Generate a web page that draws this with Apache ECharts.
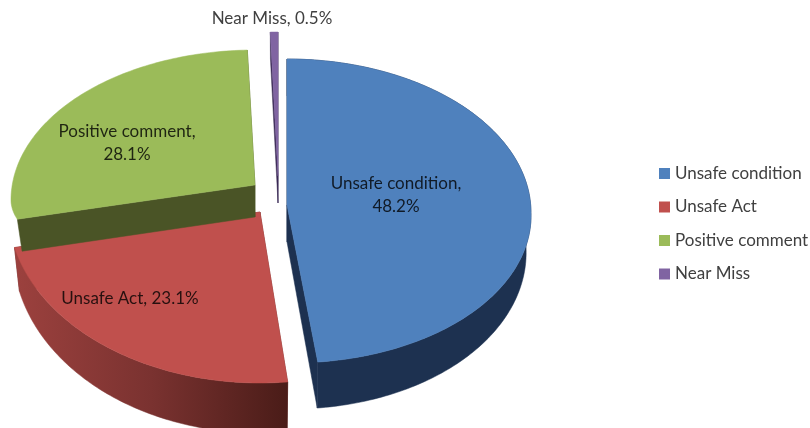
<!DOCTYPE html>
<html>
<head>
<meta charset="utf-8">
<title>Observations</title>
<style>
    html, body { margin: 0; padding: 0; background: #fff; }
    #piechart { width: 810px; height: 428px; }
</style>
<script src="https://cdn.jsdelivr.net/npm/echarts@6/dist/echarts.min.js"></script>
</head>
<body>
<div id="piechart"></div>
<script>
var categories = ["Unsafe condition", "Unsafe Act", "Positive comment", "Near Miss"];
var shares = [48.2, 23.1, 28.1, 0.5];

var faceColors = ["#4f81bd", "#c0504d", "#9bbb59", "#8064a2"];
var sideColors = ["#1d3150", "#6e2c2a", "#4a5426", "#3a2a55"];
var drawOrder = [3, 4, 5, 2];
var FONT = "Lato, sans-serif";

// per slice explosion and projected ellipse of the tilted pie
var center = [270, 200];
var explode = [[17, 5], [-10, 12], [-15, -15], [8, -24]];
var radiusX = [244, 252, 244, 245];
var radiusFar = [154, 156, 150, 144];
var radiusNear = [150, 175, 85, 148];
var widestDrop = [8, -4, 15, 0];
var nearSkew = [4, 0, 0, 0];
var depthApex = [37, 42, 32, 27];
var depthRim = [46, 50, 32, 27];
var outerWall = [true, true, false, false];
var LOWER_SCALE = 0.98;
var labelOffset = [[109, -10], [-130, 87], [-128, -42], [-6, -157]];
var labelBreak = [true, false, true, false];

function total() {
    var sum = 0;
    for (var i = 0; i < shares.length; i++) {
        sum += shares[i];
    }
    return sum;
}

function sliceAngles(index) {
    var before = 0;
    for (var i = 0; i < index; i++) {
        before += shares[i];
    }
    return [before / total() * 360, (before + shares[index]) / total() * 360];
}

function rimPoint(i, deg, withDepth) {
    var a = deg * Math.PI / 180;
    var c = Math.cos(a);
    var ry = c > 0 ? radiusFar[i] : radiusNear[i];
    var drop = 0;
    var scale = 1;
    if (withDepth) {
        drop = depthApex[i] + (depthRim[i] - depthApex[i]) * Math.max(0, -c);
        scale = LOWER_SCALE;
    }
    return [
        center[0] + explode[i][0] + radiusX[i] * scale * Math.sin(a) + nearSkew[i] * Math.max(0, -c),
        center[1] + explode[i][1] + widestDrop[i] - ry * c + drop
    ];
}

function arcPoints(i, from, to, withDepth) {
    var pts = [];
    var steps = Math.max(2, Math.ceil(to - from));
    for (var s = 0; s <= steps; s++) {
        pts.push(rimPoint(i, from + (to - from) * s / steps, withDepth));
    }
    return pts;
}

function poly(points, fill, z2) {
    return { type: "polygon", z2: z2, shape: { points: points }, style: { fill: fill, stroke: fill, lineWidth: 0.5 } };
}

function renderSlice(i) {
    var range = sliceAngles(i);
    var apex = [center[0] + explode[i][0], center[1] + explode[i][1]];
    var apexLow = [apex[0], apex[1] + depthApex[i]];
    var rim = arcPoints(i, range[0], range[1], false);
    var rimLow = arcPoints(i, range[0], range[1], true);

    var wallFill = sideColors[i];
    if (i === 1) {
        wallFill = new echarts.graphic.LinearGradient(0, 0, 1, 0, [
            { offset: 0, color: "#9c413e" },
            { offset: 0.5, color: "#7a3230" },
            { offset: 1, color: "#4a1c18" }
        ]);
    }

    var children = [
        poly([apex, rim[0], rimLow[0], apexLow], sideColors[i], 1),
        poly([apex, rim[rim.length - 1], rimLow[rimLow.length - 1], apexLow], sideColors[i], 1),
        poly([apex].concat(rim), faceColors[i], 3)
    ];
    if (outerWall[i]) {
        children.push(poly(rim.concat(rimLow.slice().reverse()), wallFill, 2));
    }

    var text = categories[i] + "," + (labelBreak[i] ? "\n" : " ") + shares[i].toFixed(1) + "%";
    children.push({
        type: "text",
        z2: 10,
        style: {
            x: apex[0] + labelOffset[i][0],
            y: apex[1] + labelOffset[i][1],
            text: text,
            fill: i === 3 ? "#404040" : "rgba(0,0,0,0.8)",
            font: "17px " + FONT,
            lineHeight: 23,
            align: "center",
            verticalAlign: "middle"
        }
    });
    return { type: "group", children: children };
}

function initPie(id) {
    var container = echarts.init(document.getElementById(id));
    var seriesList = [];
    for (var i = 0; i < categories.length; i++) {
        seriesList.push({
            name: categories[i],
            type: "custom",
            coordinateSystem: "none",
            silent: true,
            z: drawOrder[i],
            itemStyle: { color: faceColors[i] },
            data: [[shares[i]]],
            renderItem: (function (index) {
                return function () {
                    return renderSlice(index);
                };
            })(i)
        });
    }
    container.setOption({
        animation: false,
        backgroundColor: "#fff",
        legend: {
            orient: "vertical",
            left: 654,
            top: 160,
            data: categories,
            icon: "rect",
            itemWidth: 11,
            itemHeight: 11,
            itemGap: 16.5,
            textStyle: { color: "#404040", fontFamily: FONT, fontSize: 17 }
        },
        series: seriesList
    });
}

initPie("piechart");
</script>
</body>
</html>
